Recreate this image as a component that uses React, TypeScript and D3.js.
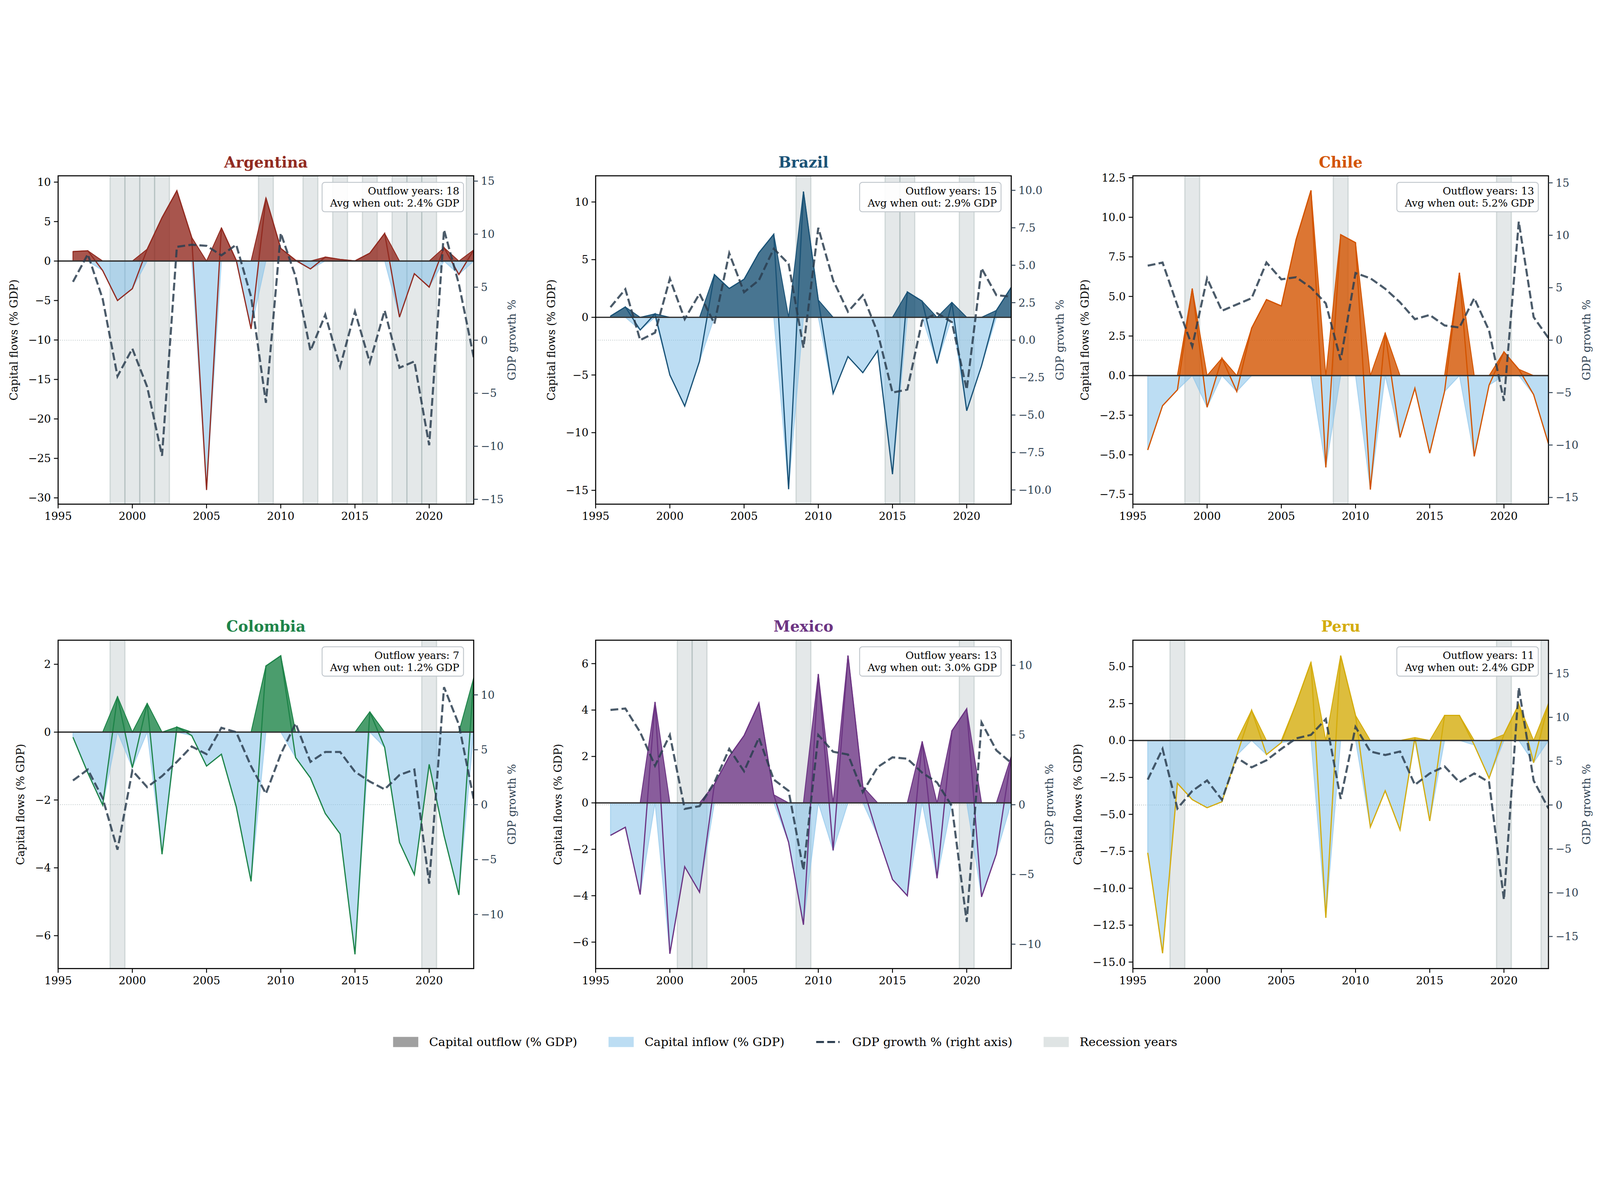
import React from "react";
import * as d3 from "d3";

const YEARS = [1996,1997,1998,1999,2000,2001,2002,2003,2004,2005,2006,2007,2008,2009,2010,2011,2012,2013,2014,2015,2016,2017,2018,2019,2020,2021,2022,2023];

const ARG_FLOW = [1.2,1.3,-1.2,-5.0,-3.5,1.5,5.5,8.9,3.0,-29.0,4.2,0.1,-8.6,8.0,1.6,0.1,-1.0,0.5,0.2,0.02,1.0,3.5,-7.1,-1.6,-3.3,1.7,-1.7,1.4];
const ARG_GDP = [5.5,8.1,3.9,-3.4,-0.8,-4.4,-10.9,8.8,9.0,8.9,8.0,9.0,4.1,-5.9,10.1,6.0,-1.0,2.4,-2.5,2.7,-2.1,2.8,-2.6,-2.0,-9.9,10.4,5.3,-1.6];
const ARG_REC = [1999,2000,2001,2002,2009,2012,2014,2016,2018,2019,2020,2023];

const BRA_FLOW = [0.1,0.9,-1.1,0.3,-5.0,-7.7,-3.8,3.7,2.5,3.3,5.6,7.2,-14.9,10.9,1.5,-6.6,-3.4,-4.8,-2.9,-13.6,2.2,1.4,-4.0,1.3,-8.1,-4.2,0.6,2.6];
const BRA_GDP = [2.2,3.4,0.0,0.5,4.1,1.4,3.1,1.1,5.8,3.2,4.0,6.1,5.1,-0.5,7.5,4.0,1.9,3.0,0.5,-3.5,-3.3,1.3,1.8,1.2,-3.3,4.8,3.0,2.9];
const BRA_REC = [2009,2015,2016,2020];

const CHL_FLOW = [-4.7,-1.9,-0.9,5.5,-2.0,1.1,-1.0,3.0,4.8,4.4,8.6,11.7,-5.8,8.9,8.4,-7.2,2.7,-3.9,-0.8,-4.9,-1.0,6.5,-5.1,-0.6,1.5,0.4,-1.2,-4.3];
const CHL_GDP = [7.1,7.4,3.3,-0.6,5.9,2.8,3.4,4.0,7.4,5.8,6.0,5.0,3.5,-1.9,6.4,5.9,4.9,3.6,2.0,2.4,1.4,1.2,4.0,0.9,-5.8,11.3,2.2,0.2];
const CHL_REC = [1999,2009,2020];

const COL_FLOW = [-0.15,-1.2,-2.15,1.05,-1.05,0.85,-3.6,0.15,-0.1,-1.0,-0.65,-2.2,-4.4,1.95,2.25,-0.75,-1.35,-2.4,-3.0,-6.55,0.6,-0.45,-3.25,-4.2,-0.95,-3.05,-4.8,1.6];
const COL_GDP = [2.2,3.2,0.6,-4.1,3.1,1.6,2.6,3.9,5.3,4.6,7.0,6.6,3.5,1.0,4.6,7.4,3.9,4.8,4.8,3.0,2.1,1.4,2.7,3.2,-7.2,10.7,7.3,0.5];
const COL_REC = [1999,2020];

const MEX_FLOW = [-1.4,-1.05,-3.95,4.35,-6.5,-2.75,-3.85,0.8,2.0,2.9,4.3,0.35,-1.7,-5.25,5.55,-2.05,6.35,0.7,-1.4,-3.3,-4.0,2.65,-3.25,3.1,4.05,-4.05,-2.2,2.0];
const MEX_GDP = [6.8,6.9,5.2,2.8,5.0,-0.3,-0.1,1.6,4.0,2.4,4.8,1.8,1.0,-4.7,5.0,3.8,3.6,0.9,2.7,3.4,3.3,2.3,1.6,-0.1,-8.4,5.9,3.9,3.0];
const MEX_REC = [2001,2002,2009,2020];

const PER_FLOW = [-7.6,-14.4,-2.9,-4.0,-4.55,-4.15,-1.0,2.05,-0.95,-0.15,2.5,5.3,-12.0,5.75,1.7,-5.85,-3.4,-6.05,0.2,-5.45,1.7,1.7,-0.3,-2.55,0.4,2.45,-1.5,2.5];
const PER_GDP = [2.9,6.4,-0.4,1.6,2.8,0.6,5.4,4.3,5.1,6.4,7.6,8.0,9.8,0.7,8.9,6.1,5.7,6.1,2.3,3.6,4.4,2.6,3.6,2.6,-10.8,13.4,2.8,-0.4];
const PER_REC = [1998,2020,2023];

const COUNTRIES = ["Argentina","Brazil","Chile","Colombia","Mexico","Peru"];
const OUTFLOW_YEARS = [18,15,13,7,13,11];
const AVG_OUT = ["2.4","2.9","5.2","1.2","3.0","2.4"];
const LEGEND_LABELS = ["Capital outflow (% GDP)","Capital inflow (% GDP)","GDP growth % (right axis)","Recession years"];

const COLORS = ["#922b21","#1a5276","#d35400","#1e8449","#6c3483","#d4ac0d"];
const FLOWS = [ARG_FLOW,BRA_FLOW,CHL_FLOW,COL_FLOW,MEX_FLOW,PER_FLOW];
const GDPS = [ARG_GDP,BRA_GDP,CHL_GDP,COL_GDP,MEX_GDP,PER_GDP];
const RECS = [ARG_REC,BRA_REC,CHL_REC,COL_REC,MEX_REC,PER_REC];
const LDOM: [number,number][] = [[-30.8,10.8],[-16.2,12.27],[-8.12,12.62],[-6.97,2.71],[-7.14,7.01],[-15.44,6.79]];
const RDOM: [number,number][] = [[-15.46,15.5],[-10.95,10.97],[-15.64,15.67],[-14.93,14.98],[-11.75,11.8],[-18.66,18.8]];
const LTICKS = [[-30,-25,-20,-15,-10,-5,0,5,10],[-15,-10,-5,0,5,10],[-7.5,-5,-2.5,0,2.5,5,7.5,10,12.5],[-6,-4,-2,0,2],[-6,-4,-2,0,2,4,6],[-15,-12.5,-10,-7.5,-5,-2.5,0,2.5,5]];
const RTICKS = [[-15,-10,-5,0,5,10,15],[-10,-7.5,-5,-2.5,0,2.5,5,7.5,10],[-15,-10,-5,0,5,10,15],[-10,-5,0,5,10],[-10,-5,0,5,10],[-15,-10,-5,0,5,10,15]];
const LFMT = [",.0f",",.0f",",.1f",",.0f",",.0f",",.1f"];
const RFMT = [",.0f",",.1f",",.0f",",.0f",",.0f",",.0f"];

const FONT = "DejaVu Serif";
const SLATE = "#2c3e50";
const INFLOW = "#85c1e9";
const REC = "#95a5a6";
const COLX = [194, 1988, 3781];
const ROWY = [121, 1671];
const PW = 1387;
const PH = 1096;

function Panel({ i }: { i: number }) {
  const x0 = COLX[i % 3], y0 = ROWY[Math.floor(i / 3)];
  const x = d3.scaleLinear().domain([1995, 2023]).range([0, PW]);
  const yl = d3.scaleLinear().domain(LDOM[i]).range([PH, 0]);
  const yr = d3.scaleLinear().domain(RDOM[i]).range([PH, 0]);
  const flows = FLOWS[i], gdp = GDPS[i], color = COLORS[i];
  const pos = d3.area<number>().x((_, k) => x(YEARS[k])).y0(yl(0)).y1(d => yl(Math.max(d, 0)));
  const neg = d3.area<number>().x((_, k) => x(YEARS[k])).y0(yl(0)).y1(d => yl(Math.min(d, 0)));
  const line = d3.line<number>().x((_, k) => x(YEARS[k])).y(d => yl(d));
  const gline = d3.line<number>().x((_, k) => x(YEARS[k])).y(d => yr(d));
  const lf = d3.format(LFMT[i]), rf = d3.format(RFMT[i]);
  const fs = 36;
  const tw = (s: string) => s.replace("−","").length * 0.636 * fs + (s.includes("−") ? 0.838 * fs : 0) - (s.includes(".") ? 0.3 * fs : 0);
  const maxW = d3.max(LTICKS[i], t => tw(lf(t))) as number;
  const maxWR = d3.max(RTICKS[i], t => tw(rf(t))) as number;
  const clipId = `clip${i}`;
  return (
    <g transform={`translate(${x0},${y0})`}>
      <defs><clipPath id={clipId}><rect x={0} y={0} width={PW} height={PH} /></clipPath></defs>
      <g clipPath={`url(#${clipId})`}>
        {RECS[i].map(r => (
          <rect key={r} x={x(r - 0.5)} y={0} width={x(r + 0.5) - x(r - 0.5)} height={PH}
            fill={REC} fillOpacity={0.25} stroke={REC} strokeOpacity={0.35} strokeWidth={4} />
        ))}
        <line x1={0} x2={PW} y1={yr(0)} y2={yr(0)} stroke="#95a5a6" strokeWidth={2} strokeDasharray="2,5" />
        <path d={neg(flows) as string} fill={INFLOW} fillOpacity={0.55} stroke={INFLOW} strokeOpacity={0.6} strokeWidth={3} />
        <path d={pos(flows) as string} fill={color} fillOpacity={0.8} stroke={color} strokeWidth={3} />
        <path d={line(flows) as string} fill="none" stroke={color} strokeWidth={4} />
        <line x1={0} x2={PW} y1={yl(0)} y2={yl(0)} stroke="#333" strokeWidth={4.5} />
        <path d={gline(gdp) as string} fill="none" stroke={SLATE} strokeOpacity={0.85} strokeWidth={7} strokeDasharray="26,11" />
      </g>
      <rect x={0} y={0} width={PW} height={PH} fill="none" stroke="#000" strokeWidth={3.5} />
      {[1995, 2000, 2005, 2010, 2015, 2020].map(t => (
        <g key={t} transform={`translate(${x(t)},${PH})`}>
          <line y2={14} stroke="#000" strokeWidth={3} />
          <text y={52} textAnchor="middle" fontFamily={FONT} fontSize={fs}>{t}</text>
        </g>
      ))}
      {LTICKS[i].map(t => (
        <g key={t} transform={`translate(0,${yl(t)})`}>
          <line x2={-14} stroke="#000" strokeWidth={3} />
          <text x={-24} dy="0.35em" textAnchor="end" fontFamily={FONT} fontSize={fs}>{lf(t)}</text>
        </g>
      ))}
      {RTICKS[i].map(t => (
        <g key={t} transform={`translate(${PW},${yr(t)})`}>
          <line x2={14} stroke={SLATE} strokeWidth={3} />
          <text x={24} dy="0.35em" textAnchor="start" fontFamily={FONT} fontSize={fs} fill={SLATE}>{rf(t)}</text>
        </g>
      ))}
      <text transform={`translate(${-38 - maxW - 22},${PH / 2}) rotate(-90)`} textAnchor="middle" fontFamily={FONT} fontSize={fs}>Capital flows (% GDP)</text>
      <text transform={`translate(${PW + 38 + maxWR + 26},${PH / 2}) rotate(-90)`} textAnchor="middle" fontFamily={FONT} fontSize={fs} fill={SLATE}>GDP growth %</text>
      <text x={PW / 2} y={-28} textAnchor="middle" fontFamily={FONT} fontSize={50} fontWeight="bold" fill={color}>{COUNTRIES[i]}</text>
      <rect x={PW - 506} y={22} width={472} height={98} rx={9} fill="#fff" fillOpacity={0.9} stroke="#c0c6cc" strokeWidth={3} />
      <text x={PW - 48} y={63} textAnchor="end" fontFamily={FONT} fontSize={34}>{`Outflow years: ${OUTFLOW_YEARS[i]}`}</text>
      <text x={PW - 48} y={103} textAnchor="end" fontFamily={FONT} fontSize={34}>{`Avg when out: ${AVG_OUT[i]}% GDP`}</text>
    </g>
  );
}

function Legend() {
  const xs = [1312, 2031, 2724, 3483];
  const cy = 3012;
  return (
    <g fontFamily={FONT} fontSize={40}>
      <rect x={xs[0]} y={cy - 17} width={84} height={34} fill="#808080" fillOpacity={0.75} />
      <rect x={xs[1]} y={cy - 17} width={84} height={34} fill={INFLOW} fillOpacity={0.55} />
      <line x1={xs[2]} x2={xs[2] + 78} y1={cy} y2={cy} stroke={SLATE} strokeWidth={7} strokeDasharray="26,11" />
      <rect x={xs[3]} y={cy - 17} width={84} height={34} fill={REC} fillOpacity={0.3} />
      {LEGEND_LABELS.map((l, k) => (
        <text key={l} x={xs[k] + 120} y={cy} dy="0.35em">{l}</text>
      ))}
    </g>
  );
}

export default function App() {
  return (
    <svg viewBox="0 0 5340 3067" preserveAspectRatio="xMidYMid meet"
      style={{ position: "fixed", left: 0, top: 0, width: "100vw", height: "100vh", background: "#fff", display: "block" }}>
      <rect width={5340} height={3067} fill="#fff" />
      {COUNTRIES.map((_, i) => <Panel key={i} i={i} />)}
      <Legend />
    </svg>
  );
}
